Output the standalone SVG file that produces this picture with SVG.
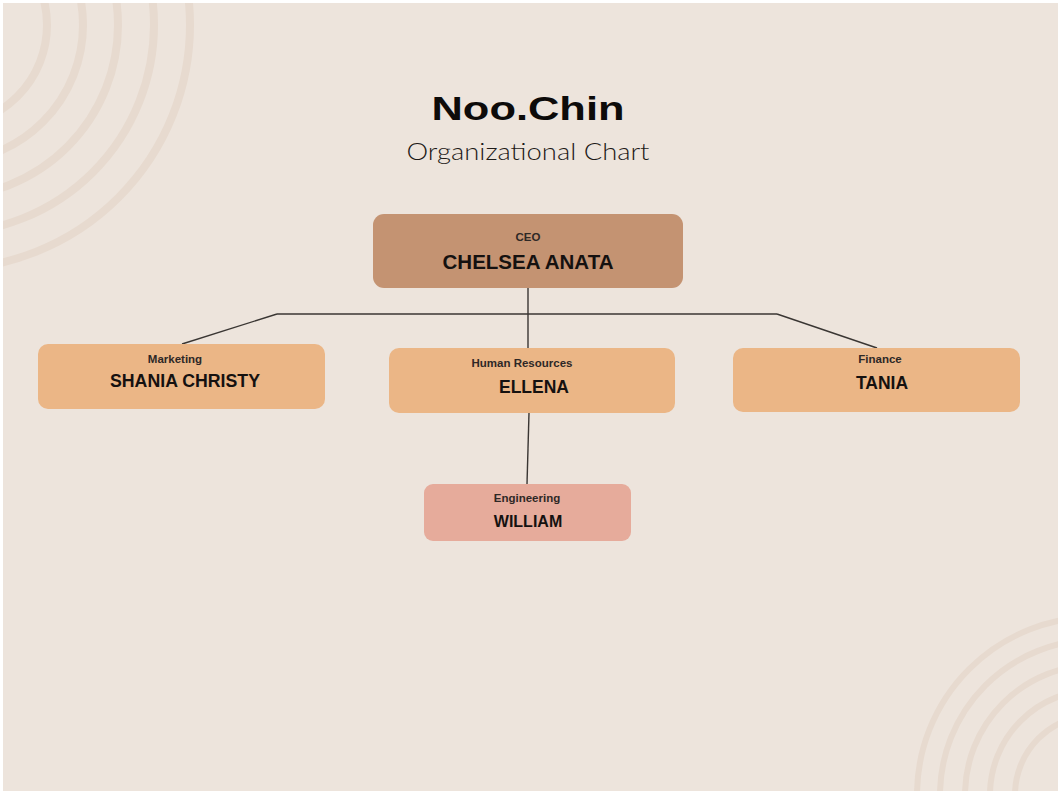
<svg xmlns="http://www.w3.org/2000/svg" width="1058" height="794" viewBox="0 0 1058 794">
  <style>
    .ring { fill: none; stroke: #e7dacf; }
    .role { font-family: "Liberation Sans", Arial, sans-serif; font-size: 11.5px; font-weight: 700; fill: #2e2826; text-anchor: middle; }
    .name { font-family: "Liberation Sans", Arial, sans-serif; font-weight: 700; fill: #151110; text-anchor: middle; }
    .conn { stroke: #3a3633; stroke-width: 1.4; fill: none; }
    .dept { fill: #ebb686; }
  </style>
  <defs>
    <clipPath id="page"><rect x="3" y="3" width="1055" height="788"/></clipPath>
  </defs>
  <rect x="0" y="0" width="1058" height="794" fill="#ffffff"/>
  <rect x="3" y="3" width="1055" height="788" fill="#ede4dc"/>
  <g clip-path="url(#page)">
    <g class="ring" stroke-width="8">
      <circle cx="-54" cy="25" r="101"/>
      <circle cx="-54" cy="25" r="137"/>
      <circle cx="-54" cy="25" r="172"/>
      <circle cx="-54" cy="25" r="208"/>
      <circle cx="-54" cy="25" r="244"/>
    </g>
    <g class="ring" stroke-width="6">
      <circle cx="1095" cy="795" r="80"/>
      <circle cx="1095" cy="795" r="105"/>
      <circle cx="1095" cy="795" r="130"/>
      <circle cx="1095" cy="795" r="155"/>
      <circle cx="1095" cy="795" r="178"/>
    </g>
  </g>
  <g id="title">
    <text x="528" y="120" text-anchor="middle" font-family="'Liberation Sans', Arial, sans-serif" font-weight="700" font-size="34" fill="#0d0b0a" textLength="193" lengthAdjust="spacingAndGlyphs">Noo.Chin</text>
    <text x="528" y="160" text-anchor="middle" font-family="Lato, 'Open Sans', sans-serif" font-weight="300" font-size="24" fill="#1e1a18" textLength="243" lengthAdjust="spacingAndGlyphs">Organizational Chart</text>
  </g>
  <g id="connectors">
    <line class="conn" x1="528" y1="288" x2="528" y2="348"/>
    <line class="conn" x1="277" y1="314" x2="777" y2="314"/>
    <line class="conn" x1="277" y1="314" x2="182" y2="344"/>
    <line class="conn" x1="777" y1="314" x2="877" y2="348"/>
    <line class="conn" x1="529" y1="413" x2="527" y2="484"/>
  </g>
  <g id="node-ceo">
    <rect x="373" y="214" width="310" height="74" rx="11" fill="#c49372"/>
    <text class="role" x="528" y="241">CEO</text>
    <text class="name" x="528" y="269" font-size="20" textLength="171" lengthAdjust="spacingAndGlyphs">CHELSEA ANATA</text>
  </g>
  <g id="node-marketing">
    <rect class="dept" x="38" y="344" width="287" height="65" rx="10"/>
    <text class="role" x="175" y="363">Marketing</text>
    <text class="name" x="185" y="387" font-size="17.5" textLength="150" lengthAdjust="spacingAndGlyphs">SHANIA CHRISTY</text>
  </g>
  <g id="node-hr">
    <rect class="dept" x="389" y="348" width="286" height="65" rx="10"/>
    <text class="role" x="522" y="367">Human Resources</text>
    <text class="name" x="534" y="393" font-size="17.5">ELLENA</text>
  </g>
  <g id="node-finance">
    <rect class="dept" x="733" y="348" width="287" height="64" rx="10"/>
    <text class="role" x="880" y="363">Finance</text>
    <text class="name" x="882" y="389" font-size="17.5">TANIA</text>
  </g>
  <g id="node-engineering">
    <rect x="424" y="484" width="207" height="57" rx="9" fill="#e6ab9b"/>
    <text class="role" x="527" y="502">Engineering</text>
    <text class="name" x="528" y="527" font-size="16">WILLIAM</text>
  </g>
</svg>
